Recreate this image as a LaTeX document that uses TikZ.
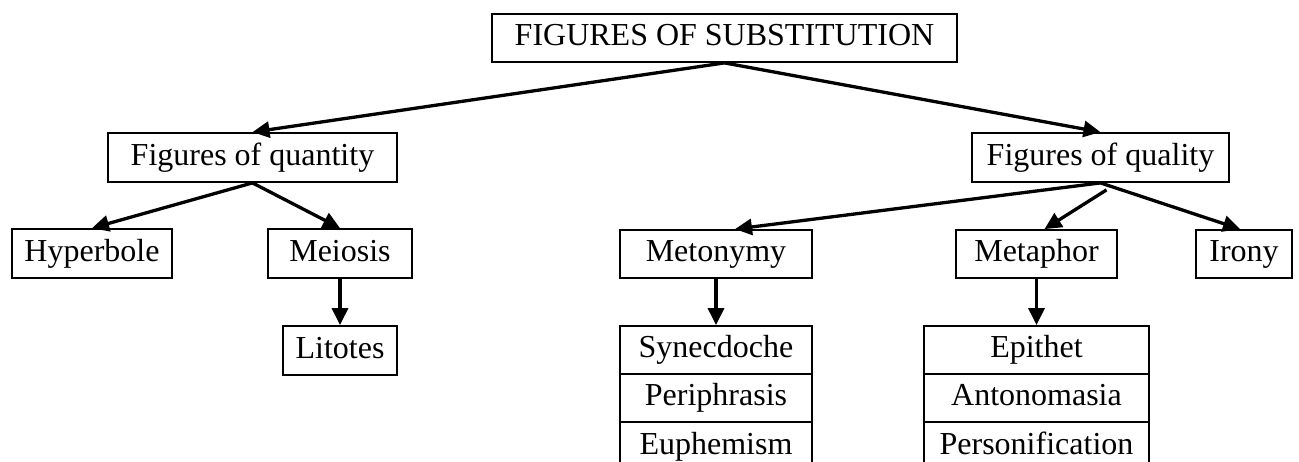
\documentclass[tikz,border=0pt]{standalone}
\usepackage{fontspec}
\setmainfont{Liberation Serif}
\usetikzlibrary{arrows.meta}
\begin{document}
\begin{tikzpicture}[x=1pt,y=-1pt,
  box/.style={draw,line width=1.8pt,rectangle,inner sep=0pt,minimum height=48pt,
    text height=23pt,text depth=7pt,
    font=\fontsize{32}{36}\selectfont,anchor=center},
  link/.style={line width=3.3pt,-{Triangle[length=17pt,width=16pt]}}]
\useasboundingbox (0,0) rectangle (1299,462);
\node[box,minimum width=465pt] (top) at (724.5,38) {FIGURES OF SUBSTITUTION};
\node[box,minimum width=289pt,minimum height=49pt] (qty) at (252.5,157.5) {Figures of quantity};
\node[box,minimum width=257pt,minimum height=49pt] (qual) at (1100.5,157.5) {Figures of quality};
\node[box,minimum width=160pt,minimum height=49pt] (hyp) at (92,253.5) {Hyperbole};
\node[box,minimum width=144pt,minimum height=49pt] (mei) at (340,253.5) {Meiosis};
\node[box,minimum width=114pt,minimum height=49pt] (lit) at (340,350.5) {Litotes};
\node[box,minimum width=192pt] (meto) at (716,254) {Metonymy};
\node[box,minimum width=161pt] (meta) at (1036.5,254) {Metaphor};
\node[box,minimum width=96pt] (iro) at (1244,254) {Irony};
\node[box,minimum width=192pt] (syn) at (716,350) {Synecdoche};
\node[box,minimum width=192pt] (per) at (716,398) {Periphrasis};
\node[box,minimum width=192pt] (eup) at (716,446) {Euphemism};
\node[box,minimum width=225pt] (epi) at (1036.5,350) {Epithet};
\node[box,minimum width=225pt] (ant) at (1036.5,398) {Antonomasia};
\node[box,minimum width=225pt] (pers) at (1036.5,446) {Personification};
\coordinate (qualm) at ([xshift=6pt,yshift=-7pt]qual.south);
\draw[link] (top.south) -- (qty.north);
\draw[link] (top.south) -- (qual.north);
\draw[link] (qty.south) -- (hyp.north);
\draw[link] (qty.south) -- (mei.north);
\draw[link] (mei.south) -- (lit.north);
\draw[link] (qual.south) -- ([xshift=19pt]meto.north);
\draw[link] (qualm) -- ([xshift=8pt]meta.north);
\draw[link] (qual.south) -- ([xshift=-4pt]iro.north);
\draw[link] (meto.south) -- (syn.north);
\draw[link] (meta.south) -- (epi.north);
\end{tikzpicture}
\end{document}
